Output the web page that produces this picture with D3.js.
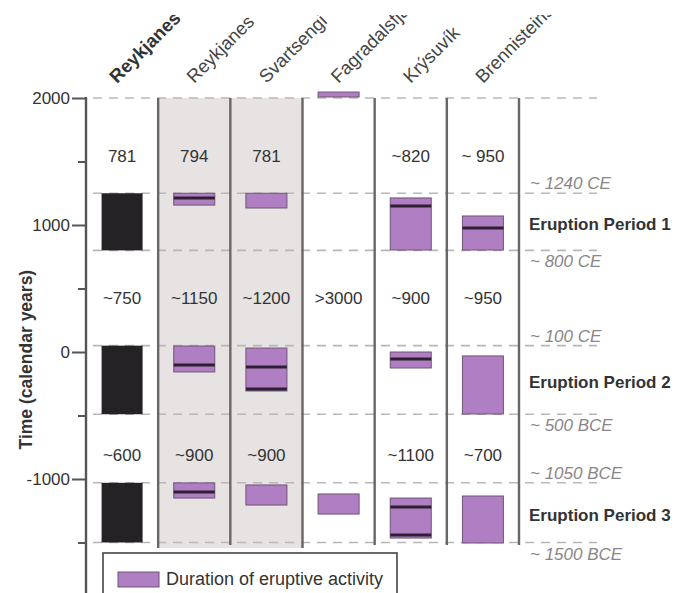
<!DOCTYPE html>
<html>
<head>
<meta charset="utf-8">
<script src="https://cdn.jsdelivr.net/npm/d3@7"></script>
<style>
  body { margin: 0; background: #fff; }
  svg { font-family: "Liberation Sans", Arial, sans-serif; }
</style>
</head>
<body>
<div id="chart"></div>
<script>
// Volcanic systems (columns)
const sites = ["Reykjanes Peninsula", "Reykjanes", "Svartsengi", "Fagradalsfjall", "Krýsuvík", "Brennisteinsfjöll"];
const shadedSites = ["Reykjanes", "Svartsengi"];

// Eruption periods for the whole peninsula (black bars)
const peninsulaPeriods = [[1250, 800], [50, -490], [-1030, -1500]];

// Duration of eruptive activity per system: [site, start, end]
const activity = [
  ["Reykjanes", 1250, 1157], ["Reykjanes", 47, -157], ["Reykjanes", -1031, -1150],
  ["Svartsengi", 1250, 1134], ["Svartsengi", 31, -307], ["Svartsengi", -1047, -1205],
  ["Fagradalsfjall", 2047, 2008], ["Fagradalsfjall", -1118, -1276],
  ["Krýsuvík", 1213, 803], ["Krýsuvík", 0, -126], ["Krýsuvík", -1150, -1465],
  ["Brennisteinsfjöll", 1071, 803], ["Brennisteinsfjöll", -31, -488], ["Brennisteinsfjöll", -1134, -1504]
];

// Dark marker lines inside activity bars: [site, year]
const markers = [
  ["Reykjanes", 1213], ["Reykjanes", -102], ["Reykjanes", -1102],
  ["Svartsengi", -118], ["Svartsengi", -291],
  ["Krýsuvík", 1150], ["Krýsuvík", -55], ["Krýsuvík", -1220], ["Krýsuvík", -1441],
  ["Brennisteinsfjöll", 976]
];

// Repose interval labels (years), three rows
const intervalYears = [1530, 410, -820];
const intervalLabels = [
  ["781", "794", "781", "", "~820", "~ 950"],
  ["~750", "~1150", "~1200", ">3000", "~900", "~950"],
  ["~600", "~900", "~900", "", "~1100", "~700"]
];

// Boundaries (dashed lines) and their labels
const boundaryYears = [1250, 800, 50, -490, -1030, -1500];
const boundaryLabels = ["~ 1240 CE", "~ 800 CE", "~ 100 CE", "~ 500 BCE", "~ 1050 BCE", "~ 1500 BCE"];
const periodLabels = ["Eruption Period 1", "Eruption Period 2", "Eruption Period 3"];

const majorTicks = [2000, 1000, 0, -1000];
const minorTicks = [1500, 500, -500, -1500];

const width = 696, height = 593;
const purple = "#b07ec2";

const svg = d3.select("#chart").append("svg")
  .attr("width", width)
  .attr("height", height);

const x = d3.scaleBand().domain(sites).range([86, 519]);
const y = d3.scaleLinear().domain([2000, -1000]).range([98, 479]);
const bw = x.bandwidth();
const cx = (s) => x(s) + bw / 2;
const barHalf = 20.5;

// Gray shading behind Reykjanes and Svartsengi
const s0 = shadedSites[0], s1 = shadedSites[shadedSites.length - 1];
svg.append("rect")
  .attr("x", x(s0))
  .attr("y", y(2000))
  .attr("width", x(s1) + bw - x(s0))
  .attr("height", 548 - y(2000))
  .attr("fill", "#e7e3e3");

// Dashed guide lines
svg.selectAll(".guide")
  .data([2000].concat(boundaryYears))
  .enter()
  .append("line")
  .attr("class", "guide")
  .attr("x1", 93)
  .attr("x2", 597)
  .attr("y1", (d) => y(d))
  .attr("y2", (d) => y(d))
  .attr("stroke", "#b9b6b8")
  .attr("stroke-width", 1.6)
  .attr("stroke-dasharray", "9,7");

// Column separators
svg.selectAll(".sep")
  .data(sites.slice(1).concat(["end"]))
  .enter()
  .append("line")
  .attr("class", "sep")
  .attr("x1", (d) => (d === "end" ? x.range()[1] : x(d)))
  .attr("x2", (d) => (d === "end" ? x.range()[1] : x(d)))
  .attr("y1", y(2000))
  .attr("y2", (d) => (d === "Reykjanes" || d === "Fagradalsfjall" ? 548 : 545))
  .attr("stroke", "#6a6567")
  .attr("stroke-width", 2.4);

// Peninsula eruption periods (black)
svg.selectAll(".period")
  .data(peninsulaPeriods)
  .enter()
  .append("rect")
  .attr("x", cx(sites[0]) - barHalf)
  .attr("y", (d) => y(d[0]))
  .attr("width", barHalf * 2)
  .attr("height", (d) => y(d[1]) - y(d[0]))
  .attr("fill", "#242224");

// Activity bars (purple)
svg.selectAll(".act")
  .data(activity)
  .enter()
  .append("rect")
  .attr("x", (d) => cx(d[0]) - barHalf)
  .attr("y", (d) => y(d[1]))
  .attr("width", barHalf * 2)
  .attr("height", (d) => y(d[2]) - y(d[1]))
  .attr("fill", purple)
  .attr("stroke", "#6e5576")
  .attr("stroke-width", 1);

// Marker lines
svg.selectAll(".mark")
  .data(markers)
  .enter()
  .append("line")
  .attr("x1", (d) => cx(d[0]) - barHalf)
  .attr("x2", (d) => cx(d[0]) + barHalf)
  .attr("y1", (d) => y(d[1]))
  .attr("y2", (d) => y(d[1]))
  .attr("stroke", "#2d2030")
  .attr("stroke-width", 3);

// Interval labels
intervalLabels.forEach((row, r) => {
  svg.selectAll(".int" + r)
    .data(row)
    .enter()
    .append("text")
    .attr("x", (d, i) => cx(sites[i]))
    .attr("y", y(intervalYears[r]))
    .attr("text-anchor", "middle")
    .attr("dominant-baseline", "middle")
    .attr("font-size", "17px")
    .attr("fill", "#333")
    .text((d) => d);
});

// Axis
svg.append("line")
  .attr("x1", 86).attr("x2", 86)
  .attr("y1", y(2000) - 1).attr("y2", height)
  .attr("stroke", "#555").attr("stroke-width", 2.4);

const gMajor = svg.append("g")
  .attr("transform", "translate(86,0)")
  .call(d3.axisLeft(y).tickValues(majorTicks).tickSize(14).tickPadding(2).tickFormat((d) => String(d)));
gMajor.select(".domain").remove();
gMajor.selectAll("line").attr("stroke", "#555").attr("stroke-width", 2);
gMajor.selectAll("text")
  .attr("font-size", "17px")
  .attr("fill", "#333")
  .attr("font-family", "Liberation Sans, Arial, sans-serif");

const gMinor = svg.append("g")
  .attr("transform", "translate(86,0)")
  .call(d3.axisLeft(y).tickValues(minorTicks).tickSize(8).tickFormat(""));
gMinor.select(".domain").remove();
gMinor.selectAll("line").attr("stroke", "#555").attr("stroke-width", 2);

svg.append("text")
  .attr("transform", `translate(32,${y(-60)}) rotate(-90)`)
  .attr("text-anchor", "middle")
  .attr("font-size", "17.5px")
  .attr("font-weight", "bold")
  .attr("fill", "#333")
  .text("Time (calendar years)");

// Column headers (cut at the top like the source)
svg.append("clipPath").attr("id", "hclip")
  .append("rect").attr("x", 0).attr("y", 15).attr("width", width).attr("height", 90);

svg.append("g").attr("clip-path", "url(#hclip)")
  .selectAll("text")
  .data(sites)
  .enter()
  .append("text")
  .attr("transform", (d, i) => `translate(${cx(d) - (i === 0 ? 5 : 0)},84) rotate(-45)`)
  .attr("font-size", "18.5px")
  .attr("font-weight", (d, i) => (i === 0 ? "bold" : "normal"))
  .attr("fill", (d, i) => (i === 0 ? "#333" : "#444"))
  .text((d) => d);

// Boundary labels (upper boundary above line, lower below)
svg.selectAll(".blab")
  .data(boundaryLabels)
  .enter()
  .append("text")
  .attr("x", 530)
  .attr("y", (d, i) => y(boundaryYears[i]) + (i % 2 === 0 ? -4 : 17))
  .attr("font-size", "17px")
  .attr("font-style", "italic")
  .attr("fill", "#8a8688")
  .text((d) => d);

// Eruption period labels
svg.selectAll(".plab")
  .data(periodLabels)
  .enter()
  .append("text")
  .attr("x", 529)
  .attr("y", (d, i) => y((boundaryYears[i * 2] + boundaryYears[i * 2 + 1]) / 2) + 4)
  .attr("dominant-baseline", "middle")
  .attr("font-size", "17px")
  .attr("font-weight", "bold")
  .attr("fill", "#333")
  .text((d) => d);

// Legend
const legend = svg.append("g");
legend.append("rect")
  .attr("x", 103).attr("y", 553)
  .attr("width", 294).attr("height", 80)
  .attr("fill", "#fff")
  .attr("stroke", "#444")
  .attr("stroke-width", 1.6);
legend.append("rect")
  .attr("x", 118).attr("y", 572)
  .attr("width", 41).attr("height", 15)
  .attr("fill", purple)
  .attr("stroke", "#6e5576");
legend.append("text")
  .attr("x", 166).attr("y", 580)
  .attr("dominant-baseline", "middle")
  .attr("font-size", "18px")
  .attr("fill", "#333")
  .text("Duration of eruptive activity");
</script>
</body>
</html>
